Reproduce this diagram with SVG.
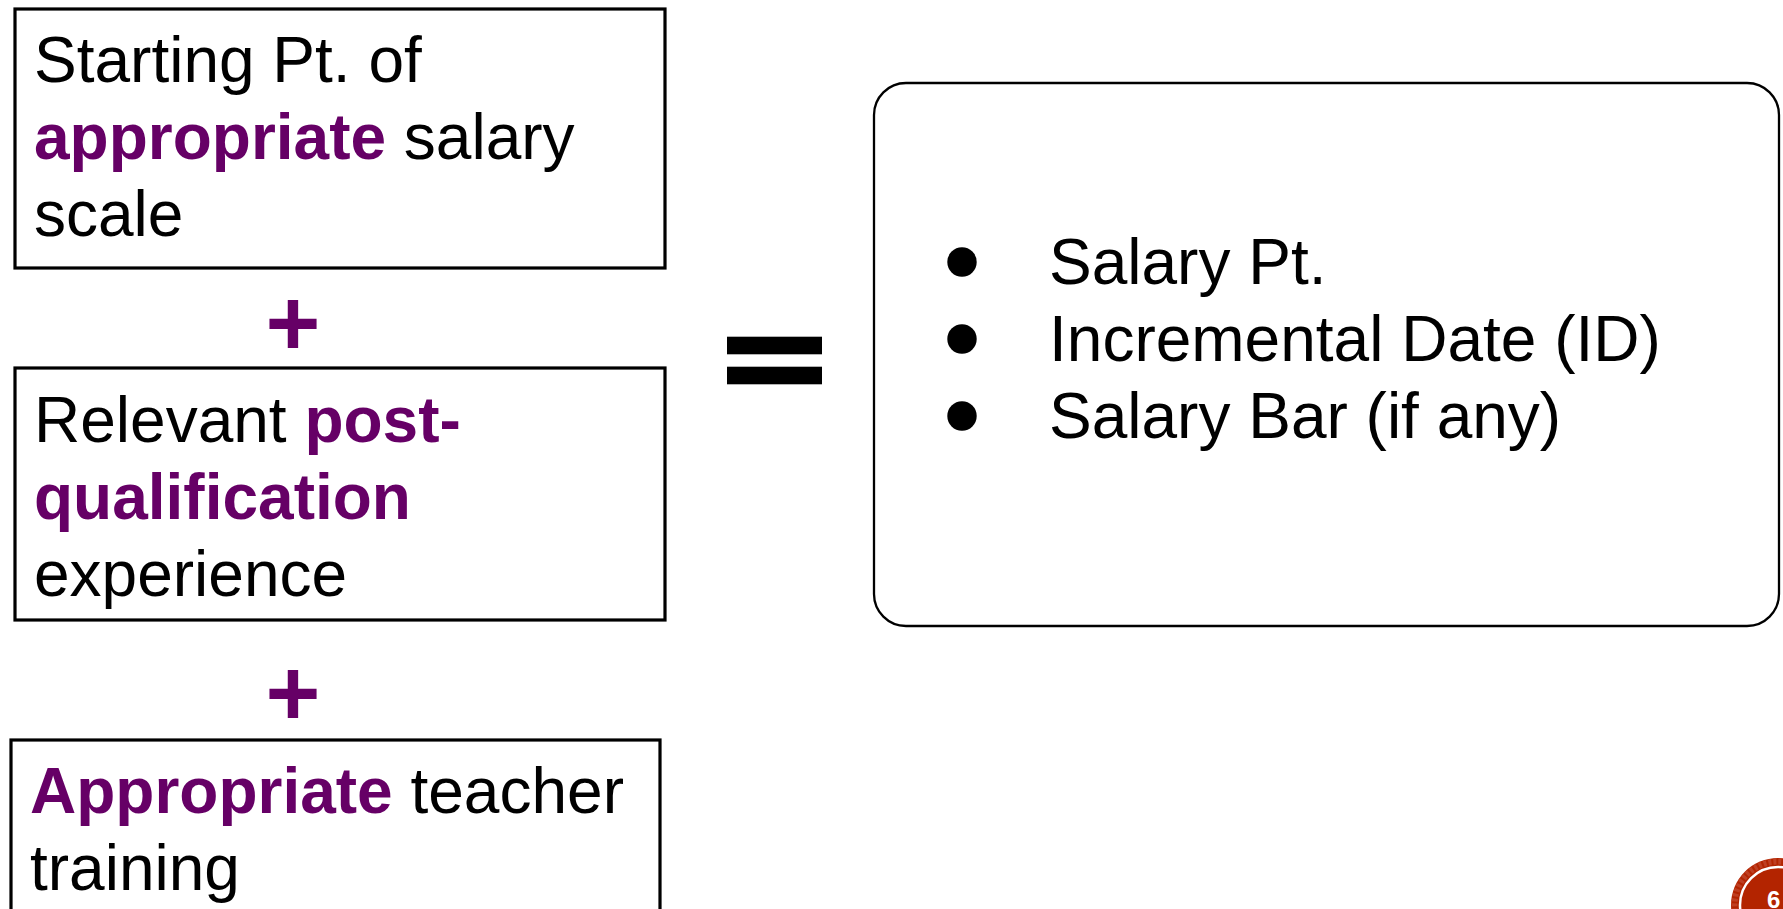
<svg xmlns="http://www.w3.org/2000/svg" width="1783" height="909" viewBox="0 0 1783 909">
<style>
  .box { fill: #ffffff; stroke: #000000; stroke-width: 3.2; }
  .rbox { fill: #ffffff; stroke: #000000; stroke-width: 2.3; }
  .t { font-family: "Liberation Sans", Arial, sans-serif; font-size: 64px; fill: #000000; }
  .hl { font-weight: bold; fill: #660066; }
  .op { font-family: "Liberation Sans", Arial, sans-serif; font-weight: bold; text-anchor: middle; }
  .bullet { fill: #000000; }
</style>
<rect width="1783" height="909" fill="#ffffff"/>

<g id="box-starting-point">
  <rect class="box" x="15" y="9" width="650" height="259"/>
  <text class="t" x="34" y="82">Starting Pt. of</text>
  <text class="t" x="34" y="159"><tspan class="hl">appropriate</tspan> salary</text>
  <text class="t" x="34" y="236">scale</text>
</g>

<g id="plus-1">
  <text class="op" x="293" y="355" font-size="94" fill="#660066">+</text>
</g>

<g id="box-experience">
  <rect class="box" x="15" y="368" width="650" height="252"/>
  <text class="t" x="34" y="442">Relevant <tspan class="hl">post-</tspan></text>
  <text class="t" x="34" y="519"><tspan class="hl">qualification</tspan></text>
  <text class="t" x="34" y="596">experience</text>
</g>

<g id="plus-2">
  <text class="op" x="293" y="725" font-size="94" fill="#660066">+</text>
</g>

<g id="box-training">
  <rect class="box" x="11" y="740" width="649" height="190"/>
  <text class="t" x="30" y="813"><tspan class="hl">Appropriate</tspan> teacher</text>
  <text class="t" x="30" y="890">training</text>
</g>

<g id="equals-shape">
  <rect x="727" y="336.7" width="95" height="17.6" fill="#000000"/>
  <rect x="727" y="366.7" width="95" height="17.6" fill="#000000"/>
</g>

<g id="box-result">
  <rect class="rbox" x="874" y="83" width="905" height="543" rx="32" ry="32"/>
  <circle class="bullet" cx="962" cy="262" r="14.7"/>
  <circle class="bullet" cx="962" cy="339" r="14.7"/>
  <circle class="bullet" cx="962" cy="416" r="14.7"/>
  <text class="t" x="1049" y="284">Salary Pt.</text>
  <text class="t" x="1049" y="361">Incremental Date (ID)</text>
  <text class="t" x="1049" y="438">Salary Bar (if any)</text>
</g>

<g id="page-number">
  <circle cx="1778" cy="905" r="47" fill="#b32400"/>
  <circle cx="1778" cy="905" r="43.5" fill="none" stroke="#c0462a" stroke-width="6" stroke-dasharray="3 2" opacity="0.8"/>
  <circle cx="1778" cy="905" r="38" fill="none" stroke="#ffffff" stroke-width="2.5"/>
  <text x="1767" y="908" font-family="Liberation Sans, Arial, sans-serif" font-weight="bold" font-size="24" fill="#ffffff">6</text>
</g>

<g id="connectors"/>
</svg>
